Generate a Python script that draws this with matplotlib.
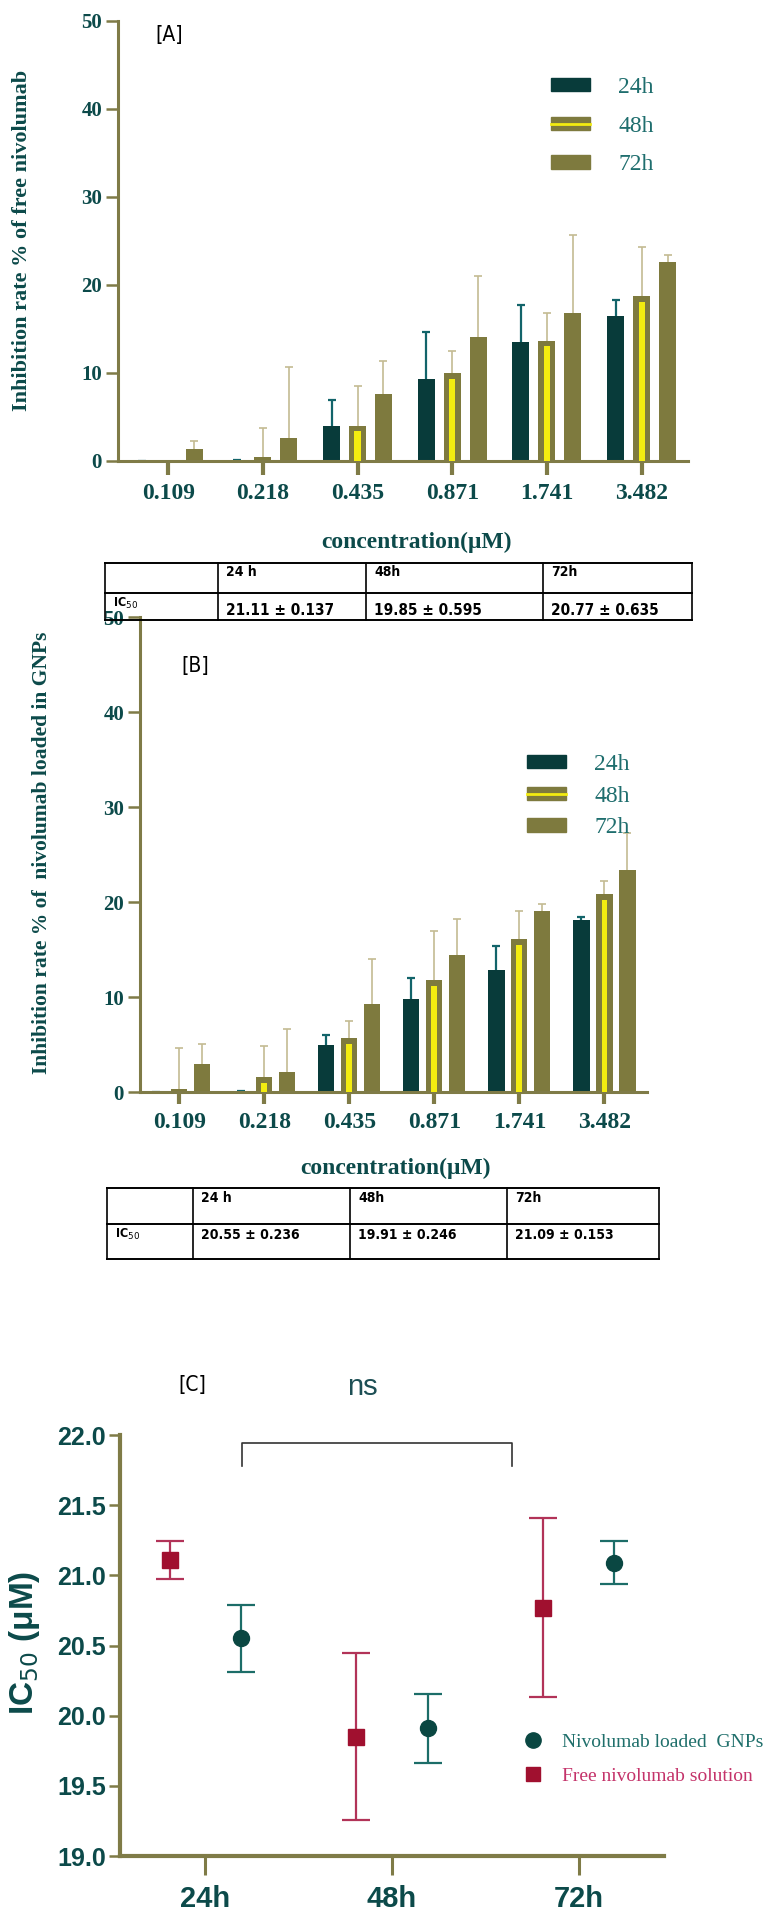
import numpy as np
import matplotlib
matplotlib.use('Agg')
import matplotlib.pyplot as plt
from matplotlib.patches import Patch
from matplotlib.lines import Line2D
from matplotlib.legend_handler import HandlerTuple

# concentrations (uM) and incubation times
conc_labels = ['0.109', '0.218', '0.435', '0.871', '1.741', '3.482']
times = ['24h', '48h', '72h']

# [A] free nivolumab: mean inhibition % and upper SD
free_24 = [0.0, 0.1, 4.0, 9.3, 13.5, 16.5]
free_24_sd = [0.0, 0.0, 2.9, 5.4, 4.2, 1.8]
free_48 = [0.0, 0.5, 4.0, 9.95, 13.65, 18.7]
free_48_sd = [0.0, 3.2, 4.55, 2.55, 3.2, 5.6]
free_72 = [1.4, 2.66, 7.6, 14.1, 16.8, 22.6]
free_72_sd = [0.9, 8.0, 3.8, 6.9, 8.9, 0.8]

# [B] nivolumab loaded in GNPs
gnp_24 = [0.0, 0.1, 5.0, 9.75, 12.87, 18.15]
gnp_24_sd = [0.0, 0.0, 0.95, 2.2, 2.45, 0.25]
gnp_48 = [0.28, 1.6, 5.67, 11.8, 16.1, 20.8]
gnp_48_sd = [4.4, 3.2, 1.85, 5.2, 3.0, 1.4]
gnp_72 = [3.0, 2.13, 9.3, 14.4, 19.1, 23.4]
gnp_72_sd = [2.1, 4.5, 4.7, 3.8, 0.7, 3.9]

# [C] IC50 values
ic50_free = [21.11, 19.85, 20.77]
ic50_free_sd = [0.137, 0.595, 0.635]
ic50_gnp = [20.55, 19.91, 21.09]
ic50_gnp_sd = [0.236, 0.246, 0.153]

SERIF = ['Liberation Serif', 'DejaVu Serif']
SANS = ['Liberation Sans', 'DejaVu Sans']
NARROW = ['DejaVu Sans']

olive = '#7e7a3e'
axis_col = '#7f7b47'
dark = '#083b3a'
yellow = '#f3ec10'
teal_txt = '#0c4a4a'
leg_txt = '#1f6e6e'
err_dark = '#12646a'
err_light = '#c4bb92'
red = '#a0102f'
red_err = '#b23358'
gnp_col = '#0a4742'
gnp_err = '#1c6d68'

W, H = 764, 1917
fig = plt.figure(figsize=(W / 100, H / 100), dpi=100)


def px_axes(l, t, r, b, z=0):
    ax = fig.add_axes([l / W, 1 - b / H, (r - l) / W, (b - t) / H], zorder=z)
    ax.patch.set_visible(False)
    return ax


def style(ax, lw=2.2):
    for s in ['top', 'right']:
        ax.spines[s].set_visible(False)
    for s in ['left', 'bottom']:
        ax.spines[s].set_color(axis_col)
        ax.spines[s].set_linewidth(lw)


def bar_panel(ax, means, sds, width, off, xlim, xtick_len, ylab, ylab_fs):
    x = np.arange(len(conc_labels))
    cols = [dark, olive, olive]
    ecols = [err_dark, err_light, err_light]
    for i in range(3):
        m = np.array(means[i])
        s = np.array(sds[i])
        xi = x + (i - 1) * off
        eb = ax.errorbar(xi, m, yerr=[np.zeros_like(s), s], fmt='none', ecolor=ecols[i],
                         elinewidth=1.6 if i == 0 else 1.2, capsize=3.2, capthick=1.6 if i == 0 else 1.2,
                         zorder=1)
        eb[1][0].set_visible(False)
        ax.bar(xi, m, width, color=cols[i], zorder=2)
        if i == 1:
            ax.bar(xi, np.clip(m - 0.6, 0, None), width * 0.36, color=yellow, zorder=3)
    ax.set_xlim(*xlim)
    ax.set_ylim(0, 50)
    ax.set_xticks(x)
    ax.set_xticklabels(conc_labels, fontfamily=SERIF, fontweight='bold', fontsize=17, color=teal_txt)
    ax.set_yticks(range(0, 51, 10))
    ax.set_yticklabels([str(v) for v in range(0, 51, 10)], fontfamily=SERIF, fontweight='bold',
                       fontsize=15, color=teal_txt)
    ax.tick_params(axis='x', direction='out', length=xtick_len, width=3, color=axis_col, pad=6)
    ax.tick_params(axis='y', direction='out', length=8.5, width=1.8, color=axis_col, pad=3)
    style(ax)
    ax.set_ylabel(ylab, fontfamily=SERIF, fontweight='bold', fontsize=ylab_fs, color=teal_txt)
    ax.yaxis.label.set_va('center')
    ax.set_xlabel('concentration(μM)', fontfamily=SERIF, fontweight='bold', fontsize=17, color=teal_txt)
    ax.xaxis.label.set_va('center')


def legend_bars(ax, anchor, spacing):
    handles = [Patch(color=dark), (Patch(color=olive), Line2D([], [], color=yellow, lw=2)), Patch(color=olive)]
    leg = ax.legend(handles, times, handler_map={tuple: HandlerTuple(ndivide=1)},
                    loc='upper left', bbox_to_anchor=anchor, bbox_transform=fig.transFigure,
                    frameon=False, borderpad=0, borderaxespad=0, handlelength=1.65, handleheight=0.5,
                    handletextpad=1.2, labelspacing=spacing,
                    prop={'family': SERIF, 'size': 17})
    for t in leg.get_texts():
        t.set_color(leg_txt)


def draw_table(cols_px, rows_px, header_dy, value_dy, values, fs_h, fs_v):
    ax = px_axes(cols_px[0] - 2, rows_px[0] - 2, cols_px[-1] + 2, rows_px[-1] + 2, z=5)
    ax.set_xlim(cols_px[0] - 2, cols_px[-1] + 2)
    ax.set_ylim(rows_px[-1] + 2, rows_px[0] - 2)
    ax.axis('off')
    for c in cols_px:
        ax.plot([c, c], [rows_px[0], rows_px[-1]], color='black', lw=1.2)
    for r in rows_px:
        ax.plot([cols_px[0], cols_px[-1]], [r, r], color='black', lw=1.4)
    headers = ['', '24 h', '48h', '72h']
    for j, h in enumerate(headers):
        ax.text(cols_px[j] + 8, rows_px[0] + header_dy, h, fontfamily=NARROW, fontweight='bold',
                fontstretch='condensed', fontsize=fs_h, va='center', ha='left')
    ax.text(cols_px[0] + 8, rows_px[1] + 10, 'IC$_{50}$', fontfamily=NARROW, fontweight='bold',
            fontstretch='condensed', fontsize=fs_h - 1, va='center', ha='left')
    for j, v in enumerate(values):
        ax.text(cols_px[j + 1] + 8, rows_px[1] + value_dy, v, fontfamily=NARROW, fontweight='bold',
                fontstretch='condensed', fontsize=fs_v, va='center', ha='left')


def panel_tag(x, y, s):
    fig.text(x / W, 1 - y / H, s, fontfamily=NARROW, fontstretch='condensed', fontsize=15,
             ha='center', va='center')


# ---------- panel A ----------
axA = px_axes(118, 21, 688, 461)
bar_panel(axA, [free_24, free_48, free_72], [free_24_sd, free_48_sd, free_72_sd],
          0.18, 0.274, (-0.53, 5.49), 10, 'Inhibition rate % of free nivolumab', 16)
axA.yaxis.set_label_coords(-0.168, 0.502)
axA.xaxis.set_label_coords(0.523, -0.186)
legend_bars(axA, (551 / W, 1 - 77 / H), 0.75)
panel_tag(169, 35, '[A]')

draw_table([105, 218, 366, 543, 692], [563, 593, 620], 9, 18,
           [f'{m:.2f} ± {s:.3f}' for m, s in zip(ic50_free, ic50_free_sd)], 10, 11)

# ---------- panel B ----------
axB = px_axes(140, 617, 647, 1092)
bar_panel(axB, [gnp_24, gnp_48, gnp_72], [gnp_24_sd, gnp_48_sd, gnp_72_sd],
          0.19, 0.27, (-0.46, 5.5), 8.6, 'Inhibition rate % of  nivolumab loaded in GNPs', 15.5)
axB.yaxis.set_label_coords(-0.193, 0.503)
axB.xaxis.set_label_coords(0.503, -0.16)
legend_bars(axB, (527 / W, 1 - 754 / H), 0.45)
panel_tag(195, 666, '[B]')

draw_table([107, 193, 350, 507, 659], [1188, 1224, 1259], 10, 11,
           [f'{m:.2f} ± {s:.3f}' for m, s in zip(ic50_gnp, ic50_gnp_sd)], 10, 10)

# ---------- panel C ----------
axC = px_axes(120, 1435, 664, 1856)
xc = np.arange(len(times))
axC.errorbar(xc - 0.19, ic50_free, yerr=ic50_free_sd, fmt='s', color=red, ecolor=red_err,
             ms=11, capsize=10, elinewidth=1.6, capthick=1.6)
axC.errorbar(xc + 0.19, ic50_gnp, yerr=ic50_gnp_sd, fmt='o', color=gnp_col, ecolor=gnp_err,
             ms=11.5, capsize=10, elinewidth=1.6, capthick=1.6)
axC.set_xlim(-0.455, 2.455)
axC.set_ylim(19.0, 22.0)
axC.set_xticks(xc)
axC.set_xticklabels(times, fontfamily=SANS, fontweight='bold', fontsize=21, color=teal_txt)
yt = np.arange(19.0, 22.01, 0.5)
axC.set_yticks(yt)
axC.set_yticklabels([f'{v:.1f}' for v in yt], fontfamily=SANS, fontweight='bold', fontsize=18,
                    color=teal_txt)
axC.tick_params(axis='x', direction='out', length=14, width=2.2, color=axis_col, pad=7)
axC.tick_params(axis='y', direction='out', length=8, width=1.8, color=axis_col, pad=2)
style(axC, 3)
axC.set_ylabel('IC$_{50}$ (μM)', fontfamily=SANS, fontweight='bold', fontsize=24, color=teal_txt)
axC.yaxis.label.set_va('center')
axC.yaxis.set_label_coords(-0.175, 0.506)

# significance bracket
axC.plot([0.2, 0.2, 1.64, 1.64], [21.78, 21.94, 21.94, 21.78], color='#333333', lw=1.2)
fig.text(362 / W, 1 - 1387 / H, 'ns', fontfamily=SANS, fontsize=21, color='#1d4f55',
         ha='center', va='center')
panel_tag(192, 1385, '[C]')

hC = [Line2D([], [], ls='none', marker='o', ms=11, color=gnp_col),
      Line2D([], [], ls='none', marker='s', ms=10, color=red)]
legC = axC.legend(hC, ['Nivolumab loaded  GNPs', 'Free nivolumab solution'], loc='upper left',
                  bbox_to_anchor=(523 / W, 1 - 1733 / H),
                  bbox_transform=fig.transFigure, frameon=False, borderpad=0, borderaxespad=0,
                  handlelength=1.0, handletextpad=1.0, labelspacing=0.85,
                  prop={'family': SERIF, 'size': 14})
for t, c in zip(legC.get_texts(), ['#1f6f6b', '#c4336a']):
    t.set_color(c)

fig.savefig('out.png', dpi=100)
